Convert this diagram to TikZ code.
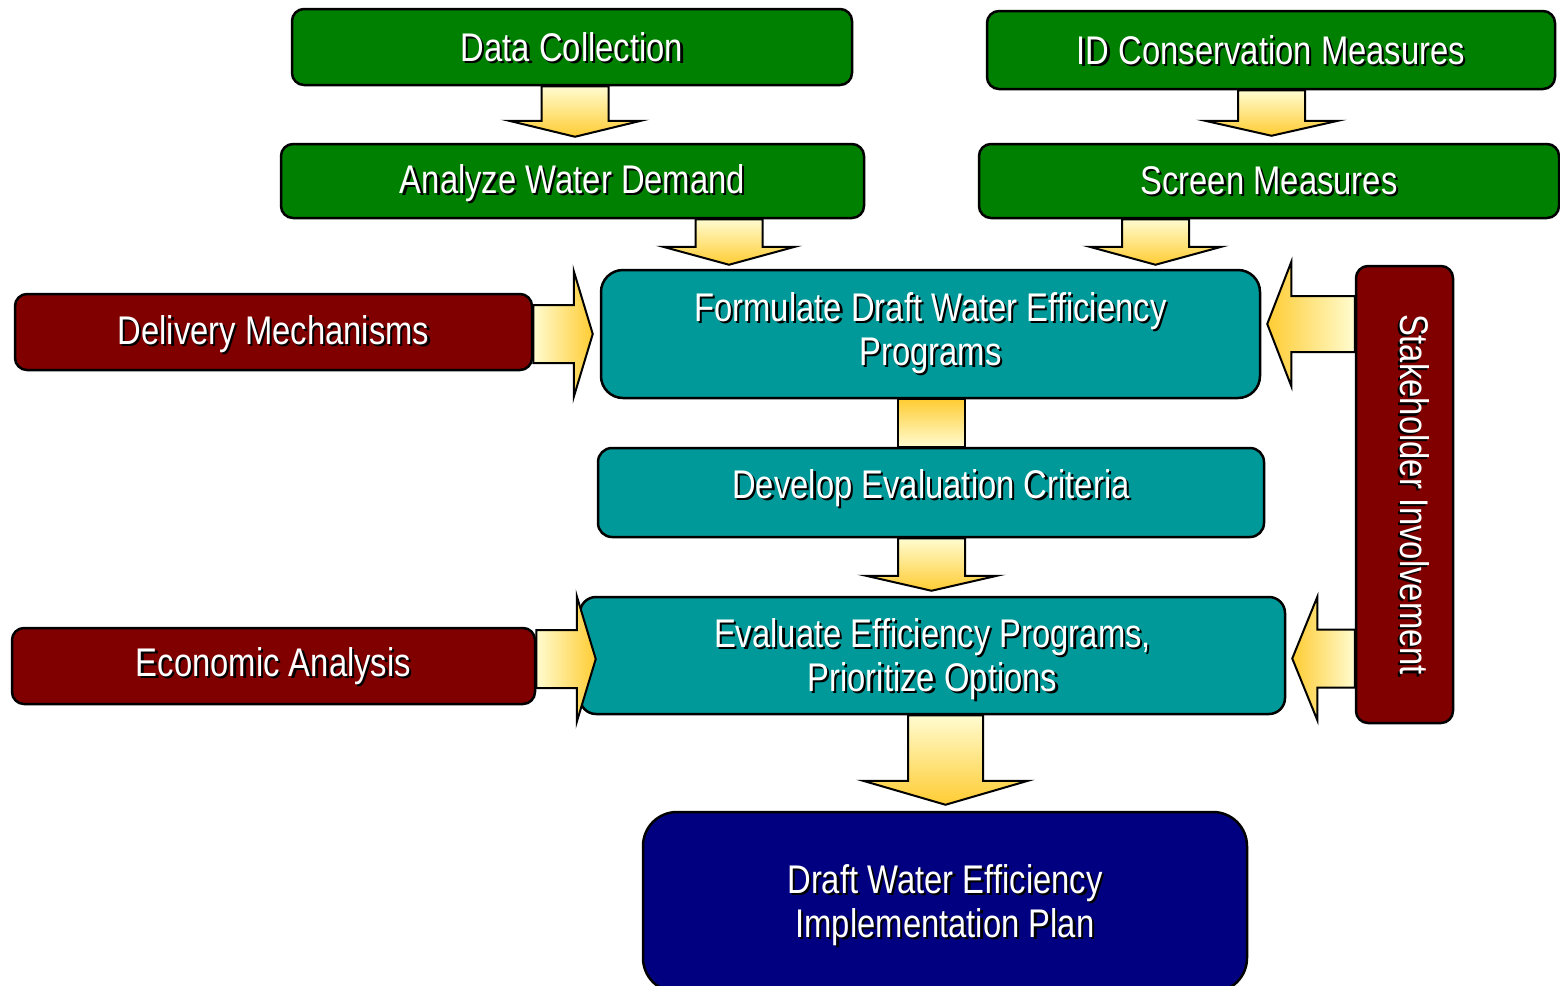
\documentclass[tikz,border=0pt]{standalone}
\usepackage{fontspec}
\usepackage{graphicx}
\setmainfont{Liberation Sans}[FakeStretch=0.82]
\usetikzlibrary{calc}
\pgfdeclarelayer{bg}
\pgfsetlayers{bg,main}
\definecolor{boxgreen}{HTML}{008000}
\definecolor{boxred}{HTML}{800000}
\definecolor{boxteal}{HTML}{009999}
\definecolor{boxnavy}{HTML}{000080}
\definecolor{ylight}{HTML}{FFFCD0}
\definecolor{ygold}{HTML}{FFCC33}
\newcommand\shtext[2][1.5pt]{\raisebox{-#1}[\height][\depth]{\rlap{\kern1.1pt\raisebox{-1.1pt}{\color{black}#2}}#2}}
% down block arrow: from, to, cx, shaft half, head half, head length, gap (px)
\newcommand\downblock[7]{%
 \shadedraw[barrow, top color=ylight, bottom color=ygold]
 let \p1=(#1.south), \p2=(#2.north) in
 ({(#3-#4)*0.5pt},\y1) -- ({(#3-#4)*0.5pt},{\y2+((#7)+(#6))*0.5pt})
 -- ({(#3-#5)*0.5pt},{\y2+((#7)+(#6))*0.5pt}) -- ({(#3)*0.5pt},{\y2+(#7)*0.5pt})
 -- ({(#3+#5)*0.5pt},{\y2+((#7)+(#6))*0.5pt}) -- ({(#3+#4)*0.5pt},{\y2+((#7)+(#6))*0.5pt})
 -- ({(#3+#4)*0.5pt},\y1) -- cycle;}
% right block arrow: from, to, cy, shaft half, head half, head length, gap (px)
\newcommand\rightblock[7]{%
 \shadedraw[barrow, left color=ylight, right color=ygold]
 let \p1=(#1.east), \p2=(#2.west) in
 (\x1,{-(#3-#4)*0.5pt}) -- ({\x2-((#7)+(#6))*0.5pt},{-(#3-#4)*0.5pt})
 -- ({\x2-((#7)+(#6))*0.5pt},{-(#3-#5)*0.5pt}) -- ({\x2-(#7)*0.5pt},{-(#3)*0.5pt})
 -- ({\x2-((#7)+(#6))*0.5pt},{-(#3+#5)*0.5pt}) -- ({\x2-((#7)+(#6))*0.5pt},{-(#3+#4)*0.5pt})
 -- (\x1,{-(#3+#4)*0.5pt}) -- cycle;}
% left block arrow: from, to, cy, shaft half, head half, head length, gap (px)
\newcommand\leftblock[7]{%
 \shadedraw[barrow, left color=ygold, right color=ylight]
 let \p1=(#1.west), \p2=(#2.east) in
 (\x1,{-(#3-#4)*0.5pt}) -- ({\x2+((#7)+(#6))*0.5pt},{-(#3-#4)*0.5pt})
 -- ({\x2+((#7)+(#6))*0.5pt},{-(#3-#5)*0.5pt}) -- ({\x2+(#7)*0.5pt},{-(#3)*0.5pt})
 -- ({\x2+((#7)+(#6))*0.5pt},{-(#3+#5)*0.5pt}) -- ({\x2+((#7)+(#6))*0.5pt},{-(#3+#4)*0.5pt})
 -- (\x1,{-(#3+#4)*0.5pt}) -- cycle;}
\begin{document}
\begin{tikzpicture}[x=0.5pt,y=-0.5pt,
  box/.style={draw=black, line width=1.25pt, rounded corners=6pt, inner sep=0pt,
    text=white, font=\fontsize{20}{22}\selectfont, align=center},
  greenbox/.style={box, fill=boxgreen},
  redbox/.style={box, fill=boxred},
  tealbox/.style={box, fill=boxteal},
  navybox/.style={box, fill=boxnavy, rounded corners=17pt},
  barrow/.style={draw=black, line width=1pt, line join=miter}]
\useasboundingbox (0,0) rectangle (1560,986);

\node[greenbox, minimum width=280pt, minimum height=38pt] (dc) at (572,47) {\shtext[0.5pt]{Data Collection}};
\node[greenbox, minimum width=284pt, minimum height=39pt] (id) at (1271,50) {\shtext[0.5pt]{ID Conservation Measures}};
\node[greenbox, minimum width=291.5pt, minimum height=37pt] (aw) at (572.5,181) {\shtext{Analyze Water Demand}};
\node[greenbox, minimum width=290pt, minimum height=37pt] (sm) at (1269,181) {\shtext[0.5pt]{Screen Measures}};
\node[redbox, minimum width=258.5pt, minimum height=38pt] (dm) at (273.5,332) {\shtext{Delivery Mechanisms}};
\node[tealbox, rounded corners=11pt, minimum width=329.5pt, minimum height=64pt] (fo) at (930.5,334) {\shtext[0pt]{Formulate Draft Water Efficiency}\\\shtext[0pt]{Programs}};
\node[tealbox, rounded corners=7pt, minimum width=333pt, minimum height=44.5pt] (de) at (931,492.5) {\shtext[-1.5pt]{Develop Evaluation Criteria}};
\node[tealbox, rounded corners=8pt, minimum width=352.5pt, minimum height=58.5pt] (ev) at (932.5,655.5) {\shtext[2.5pt]{Evaluate Efficiency Programs,}\\\shtext[2.5pt]{Prioritize Options}};
\node[redbox, minimum width=261.5pt, minimum height=38pt] (ea) at (273.5,666) {\shtext[0.5pt]{Economic Analysis}};
\node[redbox, minimum width=48.5pt, minimum height=228.5pt] (st) at (1404.5,494.5) {\kern9pt\rotatebox{-90}{\shtext[0pt]{Stakeholder Involvement}}};
\node[navybox, minimum width=302pt, minimum height=90pt] (dr) at (945,902) {\shtext[2pt]{Draft Water Efficiency}\\\shtext[2pt]{Implementation Plan}};

\begin{pgfonlayer}{bg}
\downblock{dc}{aw}{575}{33.5}{66}{16}{6}
\downblock{id}{sm}{1271.5}{33.5}{66.5}{15}{7}
\downblock{aw}{fo}{729}{33.5}{66}{18}{4}
\downblock{sm}{fo}{1155.5}{33.5}{66}{18}{4}
\downblock{de}{ev}{931.5}{33.5}{65.5}{15}{5}
\downblock{ev}{dr}{945.5}{37.5}{82.5}{24}{6}
\rightblock{dm}{fo}{334}{29}{63}{19}{7}
\leftblock{st}{fo}{324}{28}{62}{24}{6}
\leftblock{st}{ev}{658.5}{29}{61.5}{25}{6}
\shadedraw[barrow, top color=ygold, bottom color=ylight]
  let \p1=(fo.south), \p2=(de.north) in
  ({(931.5-33.5)*0.5pt},\y1) rectangle ({(931.5+33.5)*0.5pt},\y2);
\end{pgfonlayer}
\rightblock{ea}{ev}{659}{29}{63}{19}{-17}
\end{tikzpicture}
\end{document}
